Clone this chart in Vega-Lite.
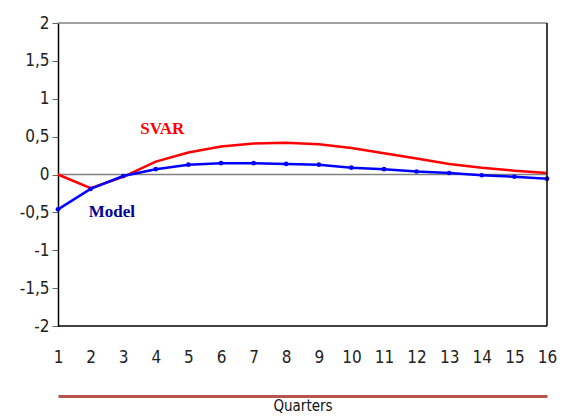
{
  "$schema": "https://vega.github.io/schema/vega-lite/v6.json",
  "width": 489,
  "height": 303,
  "autosize": {"type": "none"},
  "padding": {"left": 58, "top": 23, "right": 14, "bottom": 90},
  "background": "white",
  "config": {
    "view": {"stroke": null},
    "font": "DejaVu Sans Condensed, Roboto, sans-serif",
    "axisY": {
      "values": [-2, -1.5, -1, -0.5, 0, 0.5, 1, 1.5, 2],
      "labelExpr": "replace(replace(format(datum.value, '.1~f'), '\u2212', '-'), '.', ',')",
      "labelOverlap": false,
      "labelFlush": false,
      "grid": false, "domainColor": "#000", "domainWidth": 1.5,
      "tickColor": "#666", "tickSize": 6, "tickWidth": 1,
      "labelFontSize": 17, "labelColor": "#222", "labelPadding": 3,
      "title": null
    }
  },
  "title": {
    "text": "Nominal exchange rate",
    "font": "Liberation Serif",
    "fontSize": 22,
    "fontWeight": "normal",
    "color": "#2222C8",
    "baseline": "alphabetic",
    "anchor": "middle",
    "offset": 19
  },
  "datasets": {
    "series": [
      {"q": 1, "series": "SVAR", "v": 0.0},
      {"q": 2, "series": "SVAR", "v": -0.18},
      {"q": 3, "series": "SVAR", "v": -0.03},
      {"q": 4, "series": "SVAR", "v": 0.17},
      {"q": 5, "series": "SVAR", "v": 0.29},
      {"q": 6, "series": "SVAR", "v": 0.37},
      {"q": 7, "series": "SVAR", "v": 0.41},
      {"q": 8, "series": "SVAR", "v": 0.42},
      {"q": 9, "series": "SVAR", "v": 0.4},
      {"q": 10, "series": "SVAR", "v": 0.35},
      {"q": 11, "series": "SVAR", "v": 0.28},
      {"q": 12, "series": "SVAR", "v": 0.21},
      {"q": 13, "series": "SVAR", "v": 0.14},
      {"q": 14, "series": "SVAR", "v": 0.09},
      {"q": 15, "series": "SVAR", "v": 0.05},
      {"q": 16, "series": "SVAR", "v": 0.02},
      {"q": 1, "series": "Model", "v": -0.46},
      {"q": 2, "series": "Model", "v": -0.19},
      {"q": 3, "series": "Model", "v": -0.02},
      {"q": 4, "series": "Model", "v": 0.07},
      {"q": 5, "series": "Model", "v": 0.13},
      {"q": 6, "series": "Model", "v": 0.15},
      {"q": 7, "series": "Model", "v": 0.15},
      {"q": 8, "series": "Model", "v": 0.14},
      {"q": 9, "series": "Model", "v": 0.13},
      {"q": 10, "series": "Model", "v": 0.09},
      {"q": 11, "series": "Model", "v": 0.07},
      {"q": 12, "series": "Model", "v": 0.04},
      {"q": 13, "series": "Model", "v": 0.02},
      {"q": 14, "series": "Model", "v": -0.01},
      {"q": 15, "series": "Model", "v": -0.03},
      {"q": 16, "series": "Model", "v": -0.055}
    ],
    "labels": [
      {"q": 4.2, "v": 0.6, "text": "SVAR", "series": "SVAR"},
      {"q": 2.65, "v": -0.5, "text": "Model", "series": "Model"}
    ]
  },
  "resolve": {"axis": {"x": "independent"}},
  "layer": [
    {
      "data": {"values": [{"v": 2}]},
      "mark": {"type": "rule", "color": "#808080", "strokeWidth": 1.5},
      "encoding": {
        "y": {
          "field": "v", "type": "quantitative",
          "scale": {"domain": [-2, 2], "nice": false}
        }
      }
    },
    {
      "data": {"values": [{"v": 0}]},
      "mark": {"type": "rule", "color": "#808080", "strokeWidth": 1.5},
      "encoding": {
        "y": {"field": "v", "type": "quantitative"}
      }
    },
    {
      "data": {"name": "series"},
      "transform": [{"filter": "datum.series == 'SVAR'"}],
      "mark": {"type": "line", "color": "#FF0000", "strokeWidth": 2.5},
      "encoding": {
        "x": {
          "field": "q", "type": "quantitative",
          "scale": {"domain": [1, 16], "nice": false},
          "axis": {
            "orient": "bottom",
            "values": [1,2,3,4,5,6,7,8,9,10,11,12,13,14,15,16],
            "domain": false, "ticks": false, "grid": false,
            "labelPadding": 23, "labelFontSize": 17, "labelColor": "#222",
            "labelOverlap": false, "labelFlush": false,
            "title": null
          }
        },
        "y": {"field": "v", "type": "quantitative"}
      }
    },
    {
      "data": {"name": "series"},
      "transform": [{"filter": "datum.series == 'Model'"}],
      "mark": {"type": "line", "color": "#0000FF", "strokeWidth": 2.5, "point": {"filled": true, "size": 22, "color": "#0000FF"}},
      "encoding": {
        "x": {"field": "q", "type": "quantitative", "axis": null},
        "y": {"field": "v", "type": "quantitative"}
      }
    },
    {
      "data": {"values": [{"q": 16}]},
      "mark": {"type": "rule", "color": "#000", "strokeWidth": 1.5},
      "encoding": {
        "x": {"field": "q", "type": "quantitative", "axis": null}
      }
    },
    {
      "data": {"values": [{"v": -2}]},
      "mark": {"type": "rule", "color": "#000", "strokeWidth": 1.5},
      "encoding": {
        "y": {"field": "v", "type": "quantitative"}
      }
    },
    {
      "data": {"name": "labels"},
      "mark": {"type": "text", "font": "Liberation Serif", "fontWeight": "bold", "fontSize": 17, "align": "center", "baseline": "middle"},
      "encoding": {
        "x": {"field": "q", "type": "quantitative", "axis": null},
        "y": {"field": "v", "type": "quantitative"},
        "text": {"field": "text"},
        "color": {"field": "series", "type": "nominal", "scale": {"domain": ["SVAR", "Model"], "range": ["#FF0000", "#000099"]}, "legend": null}
      }
    },
    {
      "data": {"values": [{"q": 1}]},
      "mark": {"type": "point", "opacity": 0},
      "encoding": {
        "x": {
          "field": "q", "type": "quantitative",
          "axis": {
            "orient": "bottom", "offset": 70,
            "labels": false, "ticks": false, "grid": false,
            "domain": true, "domainColor": "#B85450", "domainWidth": 3,
            "title": "Quarters",
            "titleFontSize": 15, "titleFontWeight": "normal", "titleColor": "#111",
            "titlePadding": 2
          }
        }
      }
    }
  ]
}
